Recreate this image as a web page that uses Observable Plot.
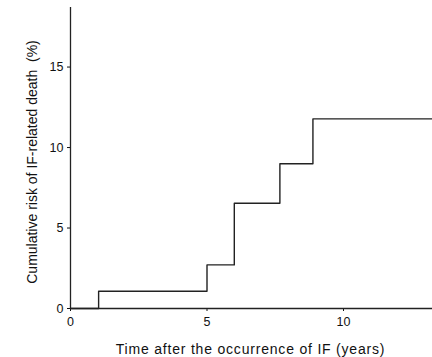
<!DOCTYPE html>
<html>
<head>
<meta charset="utf-8">
<script src="https://cdn.jsdelivr.net/npm/d3@7"></script>
<script src="https://cdn.jsdelivr.net/npm/@observablehq/plot@0.6"></script>
<style>
  body { margin: 0; background: #fff; }
  svg { display: block; }
  .xlab text { letter-spacing: 0.8px; }
</style>
</head>
<body>
<div id="chart"></div>
<script>
const times = [0, 1.03, 5.0, 6.0, 7.67, 8.88, 13.3];
const risk = [0, 1.07, 2.71, 6.54, 8.99, 11.78, 11.78];
const xTicks = [0, 5, 10];
const yTicks = [0, 5, 10, 15];
const xLabel = "Time after the occurrence of IF (years)";
const yLabel = "Cumulative risk of IF-related death  (%)";

const data = times.map((t, i) => ({t, r: risk[i]}));

const chart = Plot.plot({
  width: 432,
  height: 357,
  marginLeft: 70,
  marginRight: 0,
  marginTop: 7,
  marginBottom: 49,
  style: {fontFamily: "Liberation Sans, Arial, sans-serif", fontSize: "12px", color: "#111", background: "#fff"},
  x: {domain: [0, 13.26], label: null},
  y: {domain: [0, 18.7], label: null},
  marks: [
    Plot.axisX({ticks: xTicks, tickSize: 3, tickPadding: 6, label: null, fontSize: 12.5}),
    Plot.axisY({ticks: yTicks, tickSize: 3, tickPadding: 4, label: null, fontSize: 12.5}),
    Plot.ruleX([0], {stroke: "#222", strokeWidth: 1.3}),
    Plot.ruleY([0], {stroke: "#222", strokeWidth: 1.3}),
    Plot.line(data, {x: "t", y: "r", curve: "step-after", stroke: "#222", strokeWidth: 1.4}),
    Plot.text([xLabel], {frameAnchor: "bottom", dy: 45, dx: -1, fontSize: 14, fill: "#111", className: "xlab"}),
    Plot.text([yLabel], {frameAnchor: "left", textAnchor: "middle", dx: -38, dy: 4, rotate: -90, fontSize: 14, fill: "#111"})
  ]
});
document.getElementById("chart").appendChild(chart);
</script>
</body>
</html>
